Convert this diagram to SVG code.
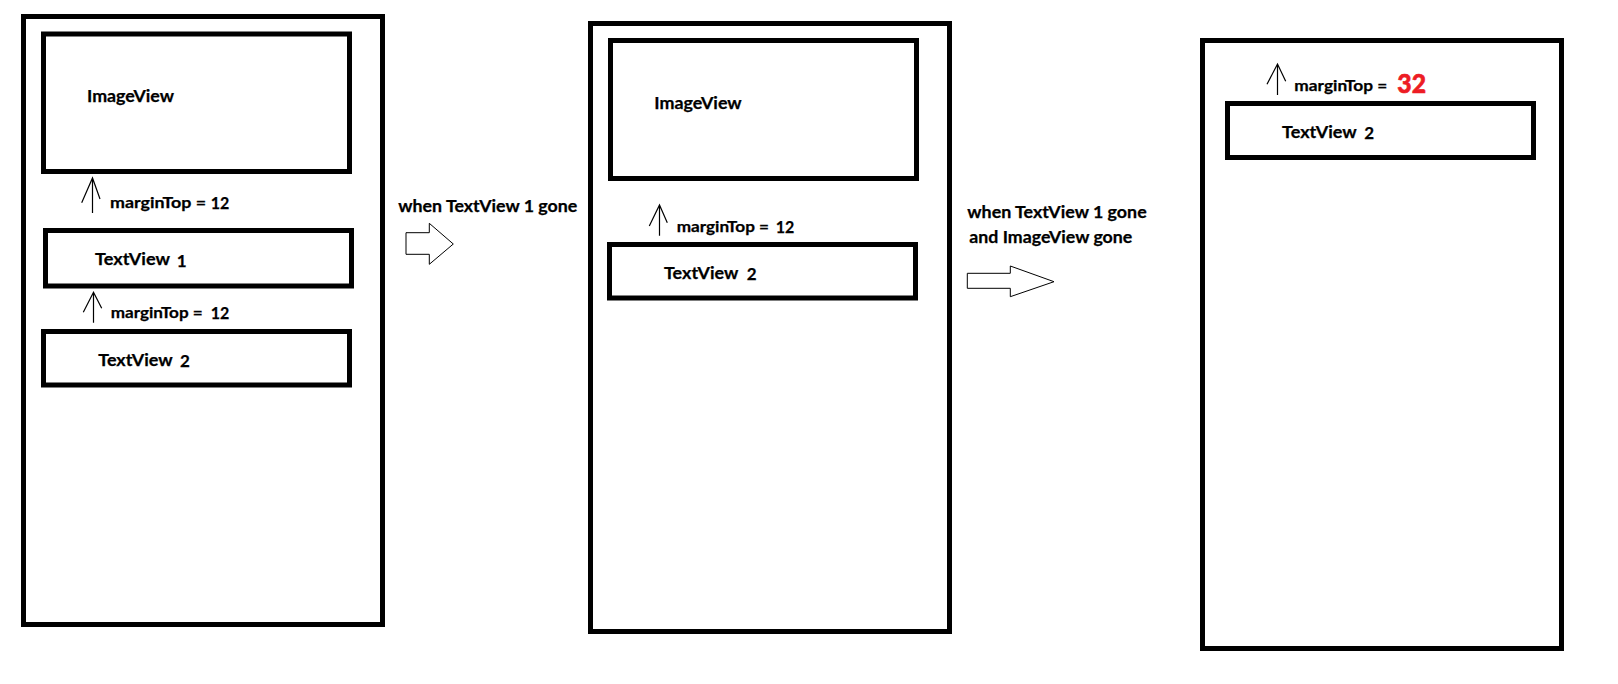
<svg xmlns="http://www.w3.org/2000/svg" width="1618" height="684" viewBox="0 0 1618 684">
<style>
.frame{fill:none;stroke:#000;stroke-width:5}
.box{fill:none;stroke:#000;stroke-width:5}
.t{font-family:Lato,"Liberation Sans",sans-serif;font-weight:bold;fill:#000;stroke:#000;stroke-width:0.25}
.big{font-size:17px}
.sm{font-size:15.5px}
.red{font-family:Lato,"Liberation Sans",sans-serif;font-weight:900;font-size:26px;fill:#ED1C24;stroke:#ED1C24;stroke-width:0.6}
.thin{fill:none;stroke:#000;stroke-width:1.2}
.hollow{fill:#fff;stroke:#000;stroke-width:1}
</style>
<rect width="1618" height="684" fill="#fff"/>

<g id="screen1">
<rect class="frame" x="23.5" y="16.5" width="359" height="608"/>
<g id="s1-imageview">
<rect class="box" x="43.5" y="34" width="306" height="137.5"/>
<text class="t big" x="87" y="101.7" textLength="87" lengthAdjust="spacingAndGlyphs">ImageView</text>
</g>
<g id="s1-textview1">
<rect class="box" x="45.5" y="230.5" width="306" height="55.5"/>
<text class="t big" x="95" y="265" textLength="75" lengthAdjust="spacingAndGlyphs">TextView</text>
<text class="t big" x="176.7" y="266.7">1</text>
</g>
<g id="s1-textview2">
<rect class="box" x="43.5" y="331.5" width="306" height="53.5"/>
<text class="t big" x="98.3" y="366" textLength="74.4" lengthAdjust="spacingAndGlyphs">TextView</text>
<text class="t big" x="180" y="366.7">2</text>
</g>
<g id="s1-margin1">
<text class="t sm" x="110" y="208.3" textLength="96" lengthAdjust="spacingAndGlyphs">marginTop =</text>
<text class="t big" x="210.7" y="208.5" textLength="18.6" lengthAdjust="spacingAndGlyphs">12</text>
</g>
<g id="s1-margin2">
<text class="t sm" x="110.7" y="318.3" textLength="92" lengthAdjust="spacingAndGlyphs">marginTop =</text>
<text class="t big" x="210.7" y="318.5" textLength="18.6" lengthAdjust="spacingAndGlyphs">12</text>
</g>
</g>

<g id="screen2">
<rect class="frame" x="590.5" y="23.5" width="359" height="608"/>
<g id="s2-imageview">
<rect class="box" x="610.5" y="40.5" width="306" height="138"/>
<text class="t big" x="654.3" y="109" textLength="87.4" lengthAdjust="spacingAndGlyphs">ImageView</text>
</g>
<g id="s2-textview2">
<rect class="box" x="609.5" y="244.5" width="306" height="53.5"/>
<text class="t big" x="664" y="279" textLength="74.3" lengthAdjust="spacingAndGlyphs">TextView</text>
<text class="t big" x="746.7" y="280">2</text>
</g>
<g id="s2-margin">
<text class="t sm" x="676.7" y="232.3" textLength="92.3" lengthAdjust="spacingAndGlyphs">marginTop =</text>
<text class="t big" x="775.7" y="232.5" textLength="18.6" lengthAdjust="spacingAndGlyphs">12</text>
</g>
</g>

<g id="screen3">
<rect class="frame" x="1202.5" y="40.5" width="359" height="608"/>
<g id="s3-textview2">
<rect class="box" x="1227.5" y="103.5" width="306" height="54"/>
<text class="t big" x="1282" y="137.7" textLength="74.7" lengthAdjust="spacingAndGlyphs">TextView</text>
<text class="t big" x="1364.3" y="139.3">2</text>
</g>
<g id="s3-margin">
<text class="t sm" x="1294.3" y="90.7" textLength="93" lengthAdjust="spacingAndGlyphs">marginTop =</text>
<text class="red" x="1397.3" y="93.3" textLength="28.7" lengthAdjust="spacingAndGlyphs">32</text>
</g>
</g>

<g id="label1">
<text class="t big" x="398.3" y="211.7" textLength="179" lengthAdjust="spacingAndGlyphs">when TextView 1 gone</text>
</g>
<g id="label2">
<text class="t big" x="967.3" y="218.3" textLength="179.4" lengthAdjust="spacingAndGlyphs">when TextView 1 gone</text>
<text class="t big" x="969.3" y="242.7" textLength="163" lengthAdjust="spacingAndGlyphs">and ImageView gone</text>
</g>

<g id="connectors">
<path class="thin" d="M92.5 213 V178 M81.7 202.7 L92.5 178 L100 199"/>
<path class="thin" d="M93.5 322.7 V292.3 M83.3 312.3 L93.5 292.3 L101.7 308.3"/>
<path class="thin" d="M659.5 235.7 V205 M649.3 226 L659.5 205 L667.3 222.7"/>
<path class="thin" d="M1277.5 95 V64 M1267 84.3 L1277.5 64 L1285.7 81.3"/>
<polygon class="hollow" points="406,232.7 429.3,232.7 429.3,223.3 453.3,244 429.3,264.3 429.3,254.3 406,254.3"/>
<polygon class="hollow" points="967.3,273.3 1010.3,273.3 1010.3,266 1054,281.7 1010.3,296.7 1010.3,288.3 967.3,288.3"/>
</g>
</svg>
